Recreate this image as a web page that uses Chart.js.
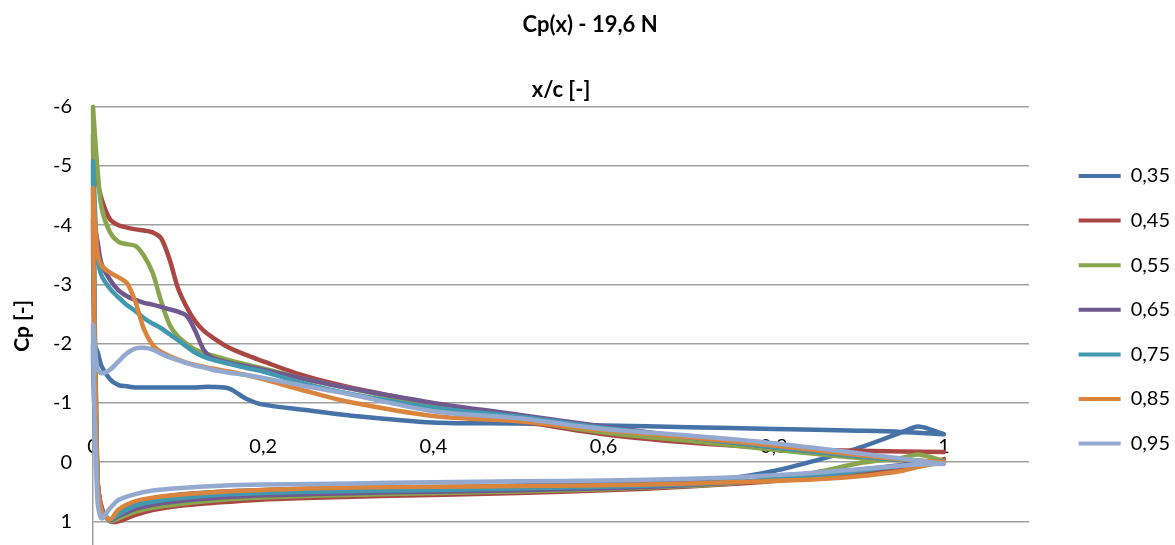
<!DOCTYPE html>
<html>
<head>
<meta charset="utf-8">
<script src="https://cdn.jsdelivr.net/npm/chart.js@4"></script>
<style>
  body { margin: 0; background: #fff; }
  #wrap { width: 1175px; height: 545px; }
</style>
</head>
<body>
<div id="wrap"><canvas id="cpChart"></canvas></div>
<script>
// series names (legend)
const seriesLabels = ['0,35', '0,45', '0,55', '0,65', '0,75', '0,85', '0,95'];

// tick labels
const xTicks = [0, 0.2, 0.4, 0.6, 0.8, 1];
const yTicks = [-6, -5, -4, -3, -2, -1, 0, 1];

// x/c stations, upper surface and lower surface
const xUpper = [0, 0.005, 0.01, 0.02, 0.03, 0.04, 0.05, 0.06, 0.07, 0.08, 0.09, 0.1, 0.11, 0.12, 0.13, 0.14, 0.16, 0.18, 0.2, 0.25, 0.3, 0.4, 0.5, 0.6, 0.7, 0.8, 0.9, 0.95, 1];
const xLower = [0.005, 0.01, 0.02, 0.03, 0.05, 0.07, 0.1, 0.15, 0.2, 0.26, 0.35, 0.45, 0.55, 0.65, 0.75, 0.8, 0.85, 0.9, 0.95, 0.97, 1];

// Cp, upper surface
const cp035Upper = [-1.97, -1.88, -1.62, -1.4, -1.3, -1.28, -1.26, -1.26, -1.26, -1.26, -1.26, -1.26, -1.26, -1.26, -1.27, -1.27, -1.24, -1.07, -0.97, -0.88, -0.79, -0.67, -0.65, -0.62, -0.59, -0.56, -0.53, -0.51, -0.47];
const cp045Upper = [-5.5, -4.8, -4.45, -4.1, -4.0, -3.96, -3.93, -3.91, -3.88, -3.78, -3.42, -2.93, -2.62, -2.38, -2.22, -2.11, -1.93, -1.81, -1.7, -1.45, -1.27, -0.98, -0.7, -0.47, -0.33, -0.24, -0.19, -0.18, -0.17];
const cp055Upper = [-6.0, -5.0, -4.3, -3.88, -3.72, -3.68, -3.65, -3.48, -3.2, -2.72, -2.32, -2.12, -2.0, -1.9, -1.84, -1.8, -1.72, -1.65, -1.58, -1.4, -1.25, -0.95, -0.72, -0.5, -0.36, -0.21, -0.07, -0.03, 0.0];
const cp065Upper = [-4.1, -3.75, -3.35, -3.08, -2.9, -2.8, -2.74, -2.69, -2.66, -2.62, -2.58, -2.54, -2.47, -2.22, -1.9, -1.76, -1.68, -1.62, -1.56, -1.4, -1.25, -1.0, -0.8, -0.6, -0.42, -0.25, -0.1, -0.04, 0.0];
const cp075Upper = [-5.05, -3.5, -3.15, -2.93, -2.78, -2.65, -2.55, -2.43, -2.34, -2.26, -2.16, -2.06, -1.95, -1.85, -1.78, -1.73, -1.66, -1.59, -1.53, -1.32, -1.16, -0.92, -0.77, -0.58, -0.42, -0.25, -0.1, -0.04, 0.0];
const cp085Upper = [-4.6, -3.55, -3.32, -3.2, -3.12, -3.02, -2.7, -2.24, -1.98, -1.86, -1.79, -1.73, -1.68, -1.64, -1.61, -1.58, -1.53, -1.47, -1.4, -1.2, -1.02, -0.78, -0.69, -0.54, -0.42, -0.28, -0.12, -0.05, 0.0];
const cp095Upper = [-2.3, -1.58, -1.5, -1.56, -1.7, -1.84, -1.92, -1.93, -1.9, -1.83, -1.77, -1.72, -1.67, -1.63, -1.6, -1.56, -1.51, -1.47, -1.42, -1.28, -1.15, -0.86, -0.74, -0.56, -0.45, -0.32, -0.15, -0.06, 0.03];

// Cp, lower surface
const cp035Lower = [0.2, 0.8, 0.98, 0.86, 0.7, 0.62, 0.55, 0.5, 0.47, 0.45, 0.43, 0.41, 0.38, 0.35, 0.27, 0.15, -0.03, -0.24, -0.5, -0.6, -0.47];
const cp045Lower = [0.2, 0.75, 1.0, 1.0, 0.89, 0.81, 0.74, 0.68, 0.63, 0.6, 0.57, 0.54, 0.5, 0.45, 0.37, 0.32, 0.25, 0.18, 0.09, 0.04, -0.05];
const cp055Lower = [0.2, 0.8, 1.0, 0.95, 0.84, 0.77, 0.71, 0.64, 0.6, 0.57, 0.54, 0.51, 0.48, 0.43, 0.36, 0.27, 0.17, 0.02, -0.07, -0.13, -0.02];
const cp065Lower = [0.2, 0.78, 0.98, 0.91, 0.79, 0.72, 0.66, 0.6, 0.56, 0.54, 0.51, 0.49, 0.46, 0.42, 0.35, 0.3, 0.22, 0.13, 0.05, 0.02, 0.0];
const cp075Lower = [0.2, 0.8, 0.97, 0.88, 0.74, 0.67, 0.61, 0.55, 0.52, 0.5, 0.48, 0.46, 0.43, 0.4, 0.34, 0.3, 0.23, 0.15, 0.06, 0.03, 0.0];
const cp085Lower = [0.2, 0.82, 0.97, 0.8, 0.66, 0.6, 0.55, 0.5, 0.47, 0.44, 0.42, 0.41, 0.4, 0.38, 0.34, 0.32, 0.29, 0.24, 0.15, 0.08, 0.0];
const cp095Lower = [0.6, 0.95, 0.78, 0.64, 0.54, 0.48, 0.44, 0.4, 0.38, 0.37, 0.35, 0.33, 0.32, 0.3, 0.26, 0.22, 0.18, 0.12, 0.06, 0.04, 0.03];

const upperCp = [cp035Upper, cp045Upper, cp055Upper, cp065Upper, cp075Upper, cp085Upper, cp095Upper];
const lowerCp = [cp035Lower, cp045Lower, cp055Lower, cp065Lower, cp075Lower, cp085Lower, cp095Lower];

const lineColors = ['#4572A7', '#AA4643', '#89A54E', '#71588F', '#4198AF', '#DB843D', '#93A9CF'];

// trailing edge -> leading edge along the top, then back along the bottom
function airfoilPoints(up, low) {
    const pts = [];
    for (let i = xUpper.length - 1; i >= 0; i--) pts.push({ x: xUpper[i], y: up[i] });
    for (let i = 0; i < xLower.length; i++) pts.push({ x: xLower[i], y: low[i] });
    return pts;
}

Chart.defaults.font.family = 'Lato';
Chart.defaults.color = '#000';

const datasets = seriesLabels.map((label, i) => ({
    label: label,
    data: airfoilPoints(upperCp[i], lowerCp[i]),
    showLine: true,
    borderColor: lineColors[i],
    backgroundColor: lineColors[i],
    borderWidth: 4.5,
    borderCapStyle: 'round',
    borderJoinStyle: 'round',
    tension: 0.3,
    pointRadius: 0,
    pointHoverRadius: 0,
    clip: 4,
    order: seriesLabels.length - i, // later series on top, like Excel
}));

const ctx = document.getElementById('cpChart').getContext('2d');
const cpChart = new Chart(ctx, {
    type: 'scatter',
    data: { datasets: datasets },
    options: {
        responsive: true,
        maintainAspectRatio: false,
        animation: false,
        layout: { padding: { top: 0, left: 0, bottom: 0, right: -5 } },
        plugins: {
            title: {
                display: true,
                text: 'Cp(x) - 19,6 N',
                font: { size: 22, weight: 'bold' },
                color: '#000',
                padding: { top: 12, bottom: 8 },
            },
            legend: {
                position: 'right',
                align: 'start',
                title: { display: true, text: '', font: { size: 1 }, padding: { top: 0, bottom: 140.2 } },
                labels: {
                    font: { size: 20 },
                    color: '#000',
                    boxWidth: 42,
                    boxHeight: 4,
                    padding: 24.6,
                    sort: (a, b) => a.datasetIndex - b.datasetIndex,
                    generateLabels: (chart) => {
                        const items = Chart.defaults.plugins.legend.labels.generateLabels(chart);
                        items.forEach(it => { it.fillStyle = it.strokeStyle; it.lineWidth = 0; });
                        return items;
                    },
                },
            },
            tooltip: { enabled: false },
        },
        scales: {
            x: {
                type: 'linear',
                position: { y: -1 }, // labels sit under the Cp = -1 line
                min: 0,
                max: 1.1,
                afterBuildTicks: (s) => { s.ticks = xTicks.map(v => ({ value: v })); },
                afterFit: (s) => { s.height = 0; },
                ticks: {
                    font: { size: 20 },
                    color: '#000',
                    padding: 31.4,
                    maxRotation: 0,
                    autoSkip: false,
                    callback: (v) => String(v).replace('.', ','),
                },
                grid: { display: false, drawTicks: false },
                border: { display: false },
            },
            x2: {
                type: 'linear',
                position: 'top',
                min: 0,
                max: 1.1,
                ticks: { display: false },
                grid: { display: false, drawTicks: false },
                border: { display: false },
                title: {
                    display: true,
                    text: 'x/c [-]',
                    font: { size: 22, weight: 'bold' },
                    color: '#000',
                    padding: { top: 30, bottom: 4 },
                },
            },
            y: {
                type: 'linear',
                reverse: true,
                min: -6,
                max: 1.4,
                afterBuildTicks: (s) => { s.ticks = yTicks.map(v => ({ value: v })); },
                afterFit: (s) => { s.width = 93; s.paddingTop = 0; s.paddingBottom = 0; },
                ticks: { font: { size: 20 }, color: '#000', padding: 21 },
                grid: { color: '#a0a0a0', lineWidth: 1.5, drawTicks: false },
                border: { display: true, color: '#a0a0a0', width: 1.5 },
                title: {
                    display: true,
                    text: 'Cp [-]',
                    font: { size: 21, weight: 'bold' },
                    color: '#000',
                    padding: { top: 10, bottom: 0 },
                },
            },
            yRight: {
                type: 'linear',
                position: 'right',
                afterFit: (s) => { s.width = 25; s.paddingTop = 0; s.paddingBottom = 0; },
                ticks: { display: false },
                grid: { display: false, drawTicks: false },
                border: { display: false },
            },
        },
    },
});
</script>
</body>
</html>
